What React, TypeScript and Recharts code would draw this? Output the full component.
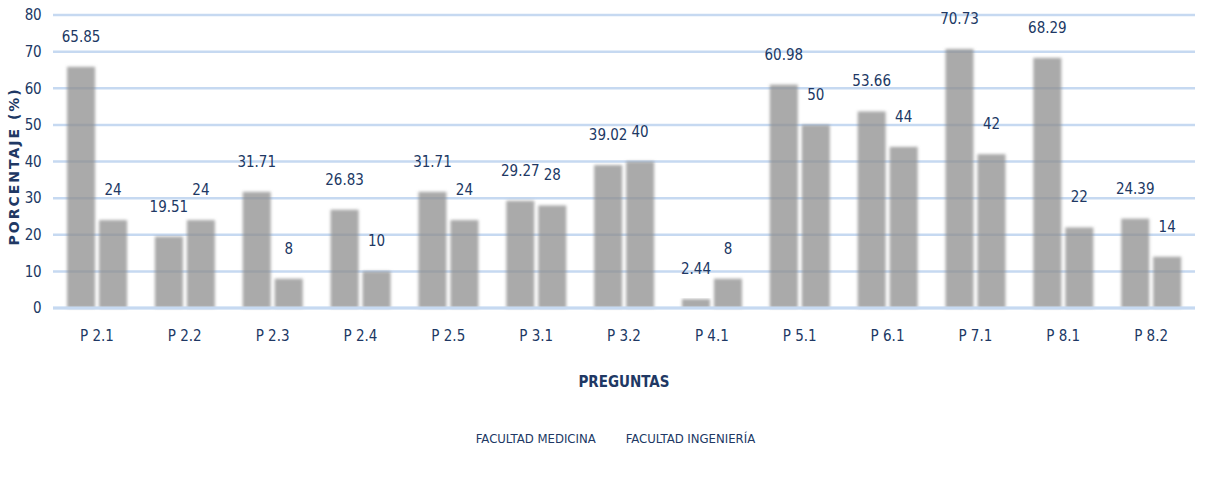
import React from "react";
import { BarChart, Bar, XAxis, YAxis, CartesianGrid, LabelList, Legend } from "recharts";

const categories = ["P 2.1", "P 2.2", "P 2.3", "P 2.4", "P 2.5", "P 3.1", "P 3.2", "P 4.1", "P 5.1", "P 6.1", "P 7.1", "P 8.1", "P 8.2"];
const medicina = [65.85, 19.51, 31.71, 26.83, 31.71, 29.27, 39.02, 2.44, 60.98, 53.66, 70.73, 68.29, 24.39];
const ingenieria = [24, 24, 8, 10, 24, 28, 40, 8, 50, 44, 42, 22, 14];
const yTicks = [0, 10, 20, 30, 40, 50, 60, 70, 80];

const data = categories.map((c, i) => ({ name: c, med: medicina[i], ing: ingenieria[i] }));

const NAVY = "#203864";
const FONT = "'Liberation Sans Narrow', 'DejaVu Sans Condensed', 'Roboto Condensed', sans-serif";

const BlurBar = (props: any) => {
  const { x, y, width, height } = props;
  if (height <= 0) return null;
  return <rect x={x} y={y} width={width} height={height} fill="#8f8f8f" fillOpacity={0.76} filter="url(#barBlur)" />;
};

const LegendContent = () => (
  <div style={{ display: "flex", justifyContent: "center", gap: 30, fontFamily: FONT, fontSize: 13, color: NAVY, paddingLeft: 36, paddingTop: 9 }}>
    <span>FACULTAD MEDICINA</span>
    <span>FACULTAD INGENIERÍA</span>
  </div>
);

export default function App() {
  return (
    <div style={{ position: "absolute", left: 0, top: 0, width: 1210, height: 478, background: "#fff" }}>
      <BarChart
        width={1210}
        height={478}
        data={data}
        margin={{ top: 15, right: 15, bottom: 0, left: 0 }}
        barCategoryGap="16%"
        barGap={4}
      >
        <defs>
          <filter id="barBlur" x="-20%" y="-10%" width="140%" height="120%">
            <feGaussianBlur stdDeviation="1.8" />
          </filter>
        </defs>
        <CartesianGrid vertical={false} stroke="#c6d9f1" strokeWidth={2.5} />
        <XAxis
          dataKey="name"
          axisLine={{ stroke: "#c6d9f1", strokeWidth: 3 }}
          tickLine={false}
          tick={{ fill: NAVY, fontSize: 15, fontFamily: FONT }}
          tickMargin={16}
          height={114}
          label={{ value: "PREGUNTAS", position: "insideTop", dy: 63, fill: NAVY, fontSize: 15, fontWeight: "bold", fontFamily: FONT }}
        />
        <YAxis
          domain={[0, 80]}
          ticks={yTicks}
          axisLine={false}
          tickLine={false}
          width={53}
          tickMargin={6}
          tick={{ fill: NAVY, fontSize: 15, fontFamily: FONT, letterSpacing: -0.5 }}
          label={{ value: "PORCENTAJE (%)", angle: -90, position: "insideLeft", dx: 9, dy: 84, fill: NAVY, fontSize: 14, fontWeight: "bold", fontFamily: "'DejaVu Sans', sans-serif", style: { letterSpacing: 2 } }}
        />
        <Legend verticalAlign="bottom" height={56} content={<LegendContent />} />
        <Bar dataKey="med" name="FACULTAD MEDICINA" shape={<BlurBar />} isAnimationActive={false}>
          <LabelList dataKey="med" position="top" offset={25} fill={NAVY} fontSize={15} fontFamily={FONT} />
        </Bar>
        <Bar dataKey="ing" name="FACULTAD INGENIERÍA" shape={<BlurBar />} isAnimationActive={false}>
          <LabelList dataKey="ing" position="top" offset={25} fill={NAVY} fontSize={15} fontFamily={FONT} />
        </Bar>
      </BarChart>
    </div>
  );
}
